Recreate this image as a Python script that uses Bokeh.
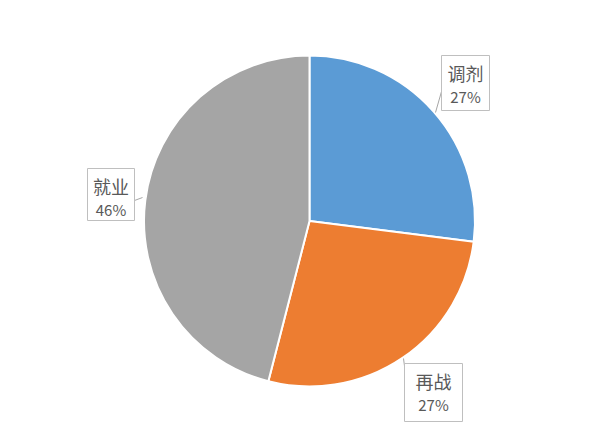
import math
from bokeh.core.properties import value
from bokeh.embed import file_html
from bokeh.models import ColumnDataSource, Range1d
from bokeh.plotting import figure
from bokeh.resources import INLINE

# chart data
categories = ["调剂", "再战", "就业"]
shares = [27, 27, 46]
colors = ["#5B9BD5", "#ED7D31", "#A5A5A5"]

# layout (picture pixels, y measured downwards)
W, H = 596, 428
CX, CY, R = 309, 220.5, 165.5
# label boxes: left, right, top, bottom
boxes = [(441, 489, 55, 110), (404, 462, 363, 421), (87, 134, 168, 220)]
# leader lines: box point -> pie edge
leaders = [((441, 91), (435, 112)), ((405, 373), (403, 358)), ((134, 200), (142, 197))]


def fy(y):
    return 438 - y


p = figure(
    width=W,
    height=H,
    x_range=Range1d(0, W),
    y_range=Range1d(438 - H, 438),
    toolbar_location=None,
    output_backend="svg",
    min_border=0,
    outline_line_color=None,
    background_fill_color="white",
    border_fill_color="white",
)
p.axis.visible = False
p.grid.visible = False

total = sum(shares)
starts, ends = [], []
cum = 0.0
for v in shares:
    starts.append(math.pi / 2 - cum / total * 2 * math.pi)
    cum += v
    ends.append(math.pi / 2 - cum / total * 2 * math.pi)

src = ColumnDataSource(dict(start=starts, end=ends, color=colors))
p.wedge(
    x=CX, y=fy(CY), radius=R,
    start_angle="start", end_angle="end", direction="clock",
    fill_color="color", line_color="white", line_width=2, source=src,
)

for (x0, y0), (x1, y1) in leaders:
    p.line([x0, x1], [fy(y0), fy(y1)], line_color="#A6A6A6", line_width=1)

p.quad(
    left=[b[0] for b in boxes], right=[b[1] for b in boxes],
    top=[fy(b[2]) for b in boxes], bottom=[fy(b[3]) for b in boxes],
    fill_color="white", line_color="#BFBFBF", line_width=1,
)

cx = [(b[0] + b[1]) / 2 for b in boxes]
p.text(
    x=cx, y=[fy(b[2] + 17) for b in boxes], text=categories,
    text_font=value("Noto Sans CJK SC"), text_font_size="18px",
    text_color="#595959", text_align="center", text_baseline="middle",
)
p.text(
    x=cx, y=[fy(b[2] + 41) for b in boxes], text=[f"{v}%" for v in shares],
    text_font=value("Noto Sans CJK SC"), text_font_size="15px",
    text_color="#595959", text_align="center", text_baseline="middle",
)

open("out.html", "w").write(file_html(p, INLINE))
